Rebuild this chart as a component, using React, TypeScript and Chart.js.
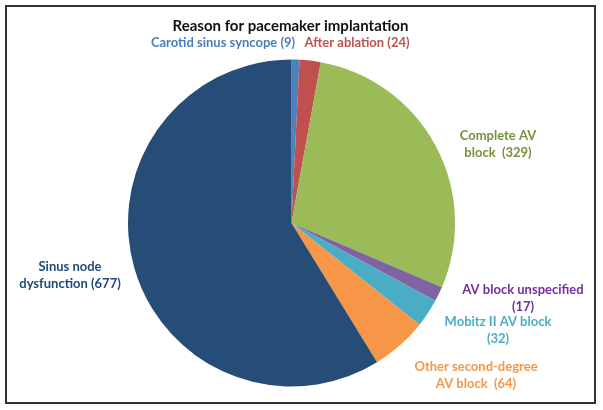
import { useEffect, useRef } from 'react';
import { Chart, registerables, Plugin } from 'chart.js';

Chart.register(...registerables);

const categories = [
  'Carotid sinus syncope',
  'After ablation',
  'Complete AV block',
  'AV block unspecified',
  'Mobitz II AV block',
  'Other second-degree AV block',
  'Sinus node dysfunction',
];
const counts = [9, 24, 329, 17, 32, 64, 677];
const sliceColors = ['#4f81bd', '#c0504d', '#9bbb59', '#8064a2', '#4bacc6', '#f79646', '#264d77'];
const labelColors = ['#4a7ebb', '#c0504d', '#76923c', '#7030a0', '#4bacc6', '#f79646', '#1f497d'];

// how each label is broken into lines, as in the picture
const labelLines = [
  ['Carotid sinus syncope (9)'],
  ['After ablation (24)'],
  ['Complete AV', 'block  (329)'],
  ['AV block unspecified', '(17)'],
  ['Mobitz II AV block', '(32)'],
  ['Other second-degree', 'AV block  (64)'],
  ['Sinus node', 'dysfunction (677)'],
];
// text anchors (center of first line) in canvas pixels
const labelAnchors = [
  [223, 43],
  [357, 43],
  [498, 136],
  [523, 290],
  [498, 322],
  [476, 367],
  [70, 267],
];

const title = 'Reason for pacemaker implantation';

const labelPlugin: Plugin<'pie'> = {
  id: 'placedLabels',
  afterDraw(chart) {
    const ctx = chart.ctx;
    ctx.save();
    ctx.textAlign = 'center';
    ctx.textBaseline = 'middle';
    ctx.fillStyle = '#111';
    ctx.font = 'bold 15px Lato';
    ctx.fillText(title, 290.5, 26);
    ctx.font = 'bold 13px Lato';
    labelLines.forEach((lines, i) => {
      const [x, y] = labelAnchors[i];
      ctx.fillStyle = labelColors[i];
      lines.forEach((line, j) => ctx.fillText(line, x, y + j * 17));
    });
    ctx.restore();
  },
};

export default function App() {
  const canvasRef = useRef<HTMLCanvasElement>(null);
  const chartRef = useRef<Chart | null>(null);

  useEffect(() => {
    if (!canvasRef.current) return;
    if (chartRef.current) chartRef.current.destroy();
    const ctx = canvasRef.current.getContext('2d');
    if (!ctx) return;

    chartRef.current = new Chart(ctx, {
      type: 'pie',
      data: {
        labels: categories,
        datasets: [{
          data: counts,
          backgroundColor: sliceColors,
          borderWidth: 0,
        }],
      },
      options: {
        responsive: true,
        maintainAspectRatio: false,
        animation: false,
        layout: {
          padding: { left: 128, right: 148, top: 59.5, bottom: 23.5 },
        },
        plugins: {
          legend: { display: false },
          title: { display: false },
          tooltip: { enabled: false },
        },
      },
      plugins: [labelPlugin],
    });

    return () => {
      if (chartRef.current) {
        chartRef.current.destroy();
        chartRef.current = null;
      }
    };
  }, []);

  return (
    <div style={{ position: 'absolute', left: 0, top: 0, width: 603, height: 410, background: '#fff' }}>
      <div style={{
        position: 'absolute', left: 5, top: 5, width: 591, height: 399,
        border: '2px solid #333', boxSizing: 'border-box',
      }} />
      <canvas ref={canvasRef} style={{ position: 'absolute', left: 0, top: 0 }} />
    </div>
  );
}
